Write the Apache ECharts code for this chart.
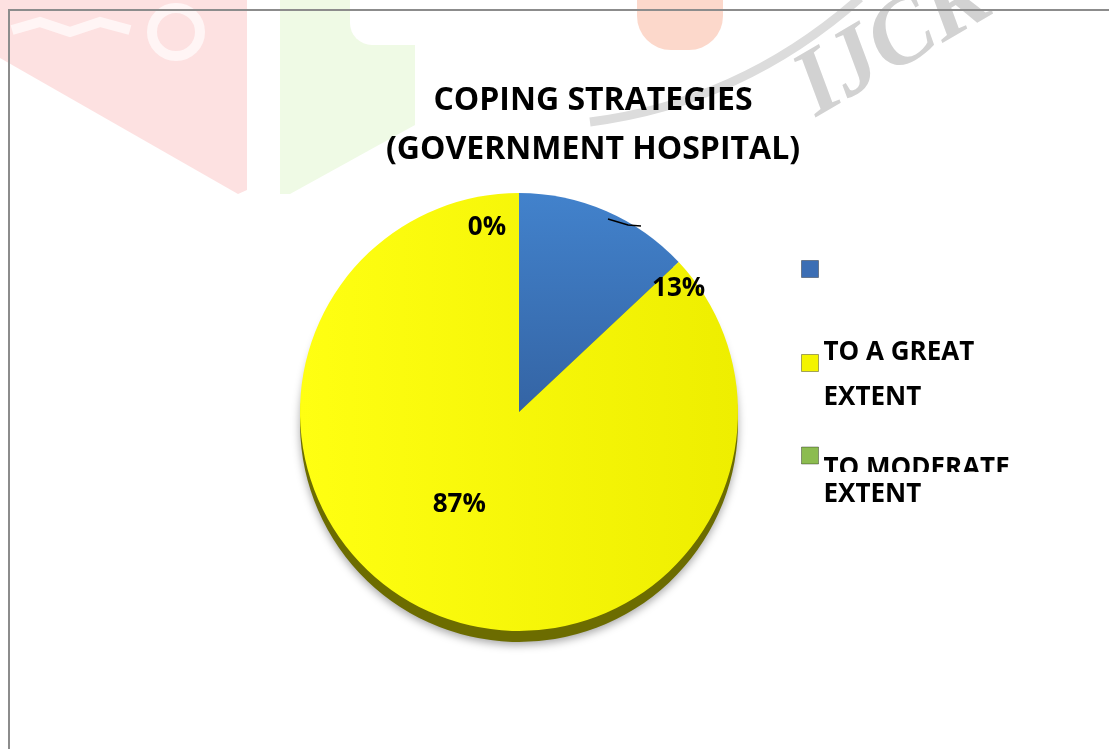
<!DOCTYPE html>
<html>
<head>
<meta charset="utf-8">
<style>
html,body{margin:0;padding:0;background:#fff;}
#chart{width:1109px;height:749px;}
</style>
<script src="https://cdn.jsdelivr.net/npm/echarts@6/dist/echarts.min.js"></script>
</head>
<body>
<div id="chart"></div>
<script>
// ---- data ----
var titleLines = ['COPING STRATEGIES', '(GOVERNMENT HOSPITAL)'];
var categories = [' ', 'TO A GREAT EXTENT', 'TO MODERATE EXTENT'];
var legendLines = [[], ['TO A GREAT', 'EXTENT'], ['TO MODERATE', 'EXTENT']];
var values = [13, 87, 0];

// ---- layout / style constants ----
var CX = 519, CY = 412, R = 219;
var FONT = '"Open Sans", "DejaVu Sans", sans-serif';
var labelShift = [[115, -20], [-15, -11], [-32, -72]];

var G = echarts.graphic;
var topColors = [
  new G.LinearGradient(0, 0, 0, 1, [{offset: 0, color: '#4282cc'}, {offset: 1, color: '#3464a4'}]),
  new G.LinearGradient(0, 0, 1, 0, [{offset: 0, color: '#ffff12'}, {offset: 1, color: '#eeee00'}]),
  new G.LinearGradient(0, 0, 0, 1, [{offset: 0, color: '#a0d060'}, {offset: 1, color: '#78a840'}])
];
var sideColors = ['#2a4a7c', '#6c6c00', '#4c6a20'];
var legendIcon = ['#3c6eb4', '#f4f400', '#8cbc50'];

var topData = categories.map(function (c, i) {
  return {name: c, value: values[i], itemStyle: {color: topColors[i]}};
});
var sideData = categories.map(function (c, i) {
  return {name: c, value: values[i], itemStyle: {color: sideColors[i]}};
});

var chart = echarts.init(document.getElementById('chart'), null, {renderer: 'canvas'});

function legendFor(i, top, spacer, lh) {
  return {
    orient: 'vertical',
    left: 801,
    top: top,
    padding: 0,
    itemWidth: 17,
    itemHeight: 17,
    itemGap: 0,
    selectedMode: false,
    icon: 'rect',
    data: [{name: categories[i], itemStyle: {color: legendIcon[i], borderColor: 'rgba(0,0,0,0.35)', borderWidth: 1}}],
    formatter: function () {
      if (!legendLines[i].length) return '';
      return '{s| }\n' + legendLines[i].map(function (t) { return '{a|' + t + '}'; }).join('\n');
    },
    textStyle: {
      fontFamily: FONT, fontWeight: 'bold', fontSize: 26, color: '#000',
      rich: {
        s: {fontSize: 8, lineHeight: spacer},
        a: {fontFamily: FONT, fontWeight: 'bold', fontSize: 26, color: '#000', lineHeight: lh}
      }
    }
  };
}

var option = {
  backgroundColor: '#fff',
  animation: false,
  title: {
    text: titleLines.join('\n'),
    left: 588,
    top: 71,
    textAlign: 'center',
    textStyle: {fontFamily: FONT, fontWeight: 'bold', fontSize: 32, lineHeight: 49, color: '#000'}
  },
  legend: [
    legendFor(0, 260, 10, 30),
    legendFor(1, 314, 25, 45),
    legendFor(2, 425.5, 52, 26)
  ],
  graphic: [
    // faint watermark shapes
    {type: 'polygon', z: -10, shape: {points: [[0, 0], [247, 0], [247, 190], [238, 194], [0, 58]]}, style: {fill: '#fde1e1'}},
    {type: 'circle', z: -9, shape: {cx: 176, cy: 32, r: 24}, style: {fill: 'none', stroke: '#fff5f5', lineWidth: 10}},
    {type: 'polyline', z: -9, shape: {points: [[12, 30], [40, 22], [70, 32], [100, 22], [130, 30]]}, style: {stroke: '#fff5f5', lineWidth: 10, fill: 'none'}},
    {type: 'polygon', z: -10, shape: {points: [[280, 0], [415, 0], [415, 125], [290, 194], [280, 194]]}, style: {fill: '#effae5'}},
    {type: 'rect', z: -9, shape: {x: 350, y: -30, width: 90, height: 75, r: 22}, style: {fill: '#ffffff'}},
    {type: 'rect', z: -10, shape: {x: 637, y: -40, width: 86, height: 90, r: 34}, style: {fill: '#fcd8cb'}},
    {type: 'bezierCurve', z: -9, shape: {x1: 590, y1: 122, x2: 860, y2: -2, cpx1: 700, cpy1: 108, cpx2: 790, cpy2: 60}, style: {stroke: '#dcdcdc', lineWidth: 9, fill: 'none'}},
    {type: 'text', z: -9, x: 804, y: 96, rotation: 0.53,
      style: {text: 'IJCR', fill: '#d2d2d2', font: 'italic bold 94px "Liberation Serif", "DejaVu Serif", serif', align: 'left', verticalAlign: 'middle'}},
    // cover strip that clips the legend line, as in the reference
    {type: 'rect', z: 100, shape: {x: 822, y: 472, width: 200, height: 9}, style: {fill: '#ffffff'}},
    // small leader stroke
    {type: 'polyline', z: 100, shape: {points: [[608, 219], [628, 225], [641, 226]]}, style: {stroke: '#000', lineWidth: 1.5, fill: 'none'}},
    // frame
    {type: 'rect', z: 100, shape: {x: 9, y: 10, width: 1300, height: 1000}, style: {fill: 'none', stroke: '#8c8c8c', lineWidth: 2}}
  ],
  series: [
    {
      type: 'pie',
      silent: true,
      z: 1,
      center: [CX, CY + 11],
      radius: R,
      startAngle: 90,
      clockwise: true,
      label: {show: false},
      labelLine: {show: false},
      itemStyle: {shadowBlur: 8, shadowColor: 'rgba(0,0,0,0.35)', shadowOffsetY: 3},
      data: sideData
    },
    {
      type: 'pie',
      z: 2,
      center: [CX, CY],
      radius: R,
      startAngle: 90,
      clockwise: true,
      avoidLabelOverlap: false,
      label: {
        show: true,
        position: 'inside',
        formatter: function (p) { return Math.round(p.percent) + '%'; },
        fontFamily: FONT, fontWeight: 'bold', fontSize: 26, color: '#000'
      },
      labelLine: {show: false},
      labelLayout: function (p) {
        var s = labelShift[p.dataIndex];
        return {dx: s[0], dy: s[1]};
      },
      data: topData
    }
  ]
};
chart.setOption(option);
</script>
</body>
</html>
